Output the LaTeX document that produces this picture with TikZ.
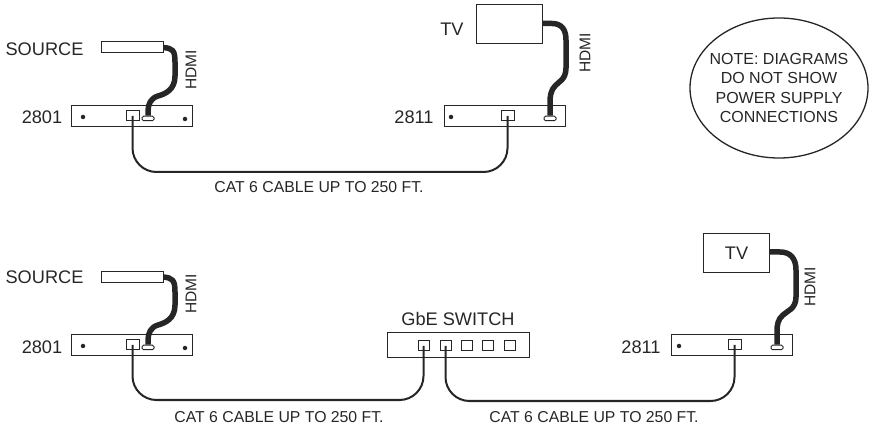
\documentclass[tikz,border=0pt]{standalone}
\usepackage{fontspec}
\setmainfont{Liberation Sans}
\usetikzlibrary{shapes.geometric}
\definecolor{inkgray}{gray}{0.15}
\tikzset{
	unitbox/.style={draw=inkgray, line width=1pt, minimum width=121pt, minimum height=21pt, inner sep=0pt},
	srcbox/.style={draw=inkgray, line width=1pt, minimum width=62pt, minimum height=11pt, inner sep=0pt},
	tvbox/.style={draw=inkgray, line width=1pt, minimum width=66pt, minimum height=39pt, inner sep=0pt},
	switchbox/.style={draw=inkgray, line width=1pt, minimum width=142pt, minimum height=25pt, inner sep=0pt},
	catport/.style={draw=inkgray, line width=1pt, minimum width=13pt, minimum height=10pt, inner sep=0pt},
	swport/.style={draw=inkgray, line width=1pt, minimum width=11pt, minimum height=10pt, inner sep=0pt},
	hdport/.style={draw=inkgray, line width=1pt, minimum width=12pt, minimum height=4.5pt, inner sep=0pt, rounded corners=1.5pt},
	screw/.style={circle, fill=inkgray, minimum size=4.5pt, inner sep=0pt},
	biglabel/.style={text=inkgray, font=\fontsize{18.2}{20}\selectfont, inner sep=0pt},
	catlabel/.style={text=inkgray, font=\fontsize{15.8}{17}\selectfont, inner sep=0pt},
	hdlabel/.style={text=inkgray, rotate=90, font=\fontsize{15.5}{16}\selectfont, inner sep=0pt},
	noteshape/.style={draw=inkgray, line width=1.3pt, ellipse, minimum width=178pt, minimum height=140pt, inner sep=0pt},
	notelabel/.style={text=inkgray, align=center, inner sep=0pt, font=\fontsize{16}{19.3}\selectfont},
	hdcable/.style={draw=inkgray, line width=5.5pt},
	catcable/.style={draw=inkgray, line width=2pt, rounded corners=24pt}
}
\begin{document}
\begin{tikzpicture}[x=1pt, y=-1pt]
	\useasboundingbox (0,0) rectangle (870,427);
	%%%%% TOP ROW %%%%%
	\node[biglabel] (srcAlabel) at (44.5, 49) {SOURCE};
	\node[srcbox] (srcA) at (132, 47.5) {};
	\node[biglabel] (numAlabel) at (42, 117) {2801};
	\node[unitbox] (unitA) at (131.5, 116.5) {};
	\node[screw] (dotA1) at (83, 117) {};
	\node[screw] (dotA2) at (185, 119) {};
	\node[catport] (catA) at (132.5, 116) {};
	\node[hdport] (hdA) at (148, 118.5) {};
	\node[hdlabel] (hdmiA) at (191, 70) {HDMI};
	\draw[hdcable] (srcA.east) .. controls +(9,1) and (175,50) .. (175,62) -- (175,76) .. controls (175,90) and (165,94) .. (158,96) .. controls (151,98) and (148,104) .. (148,111) -- (hdA.north);

	\node[biglabel] (tvAlabel) at (452, 29) {TV};
	\node[tvbox] (tvA) at (509, 24.5) {};
	\node[biglabel] (numBlabel) at (414, 117) {2811};
	\node[unitbox] (unitB) at (504.5, 116.5) {};
	\node[screw] (dotB1) at (451, 117) {};
	\node[catport] (catB) at (507.5, 116) {};
	\node[hdport] (hdB) at (550, 118.5) {};
	\node[hdlabel] (hdmiB) at (585, 53) {HDMI};
	\draw[hdcable] (tvA.east) ++(0,-1) -- (552,23.5) .. controls (562,23.5) and (566,30) .. (566,40) -- (566,68) .. controls (566,80) and (558,82) .. (555,86) .. controls (551,90) and (550,96) .. (550,102) -- (hdB.north);

	\draw[catcable] (catA.center) -- ++(0,56) -| (catB.center);
	\node[catlabel] (catAlabel) at (319, 187) {CAT 6 CABLE UP TO 250 FT.};

	\node[noteshape] (note) at (779, 88) {};
	\node[notelabel] (notetext) at (note) {NOTE: DIAGRAMS\\DO NOT SHOW\\POWER SUPPLY\\CONNECTIONS};

	%%%%% BOTTOM ROW %%%%%
	\node[biglabel] (srcClabel) at (44.5, 277) {SOURCE};
	\node[srcbox] (srcC) at (132, 277) {};
	\node[biglabel] (numClabel) at (42, 347) {2801};
	\node[unitbox] (unitC) at (131.5, 345.5) {};
	\node[screw] (dotC1) at (83, 346) {};
	\node[screw] (dotC2) at (185, 348) {};
	\node[catport] (catC) at (132.5, 345) {};
	\node[hdport] (hdC) at (148, 347.5) {};
	\node[hdlabel] (hdmiC) at (191, 294) {HDMI};
	\draw[hdcable] (srcC.east) .. controls +(9,1) and (175,280) .. (175,292) -- (175,305) .. controls (175,319) and (165,323) .. (158,325) .. controls (151,327) and (148,333) .. (148,340) -- (hdC.north);

	\node[biglabel] (swlabel) at (458, 319) {GbE SWITCH};
	\node[switchbox] (sw) at (458, 345.5) {};
	\node[swport] (swA) at (423.5, 346) {};
	\node[swport] (swB) at (445.5, 346) {};
	\node[swport] (swC) at (466.5, 346) {};
	\node[swport] (swD) at (487.5, 346) {};
	\node[swport] (swE) at (509.5, 346) {};

	\node[tvbox] (tvB) at (736.5, 253.5) {};
	\node[biglabel] (tvBlabel) at (tvB) {TV};
	\node[biglabel] (numDlabel) at (641, 347) {2811};
	\node[unitbox] (unitD) at (732, 345.5) {};
	\node[screw] (dotD1) at (679, 346) {};
	\node[catport] (catD) at (734.5, 345) {};
	\node[hdport] (hdD) at (777, 347.5) {};
	\node[hdlabel] (hdmiD) at (810, 287) {HDMI};
	\draw[hdcable] (tvB.east) ++(0,-1.5) -- (780,252) .. controls (790,252) and (796,258) .. (796,270) -- (796,297) .. controls (796,309) and (787,311) .. (783,315) .. controls (778,319) and (777,325) .. (777,331) -- (hdD.north);

	\draw[catcable] (catC.center) -- ++(0,55) -| (swA.center);
	\draw[catcable] (swB.center) -- ++(0,55) -| (catD.center);
	\node[catlabel] (catClabel) at (279, 417) {CAT 6 CABLE UP TO 250 FT.};
	\node[catlabel] (catDlabel) at (594, 417) {CAT 6 CABLE UP TO 250 FT.};
\end{tikzpicture}
\end{document}
